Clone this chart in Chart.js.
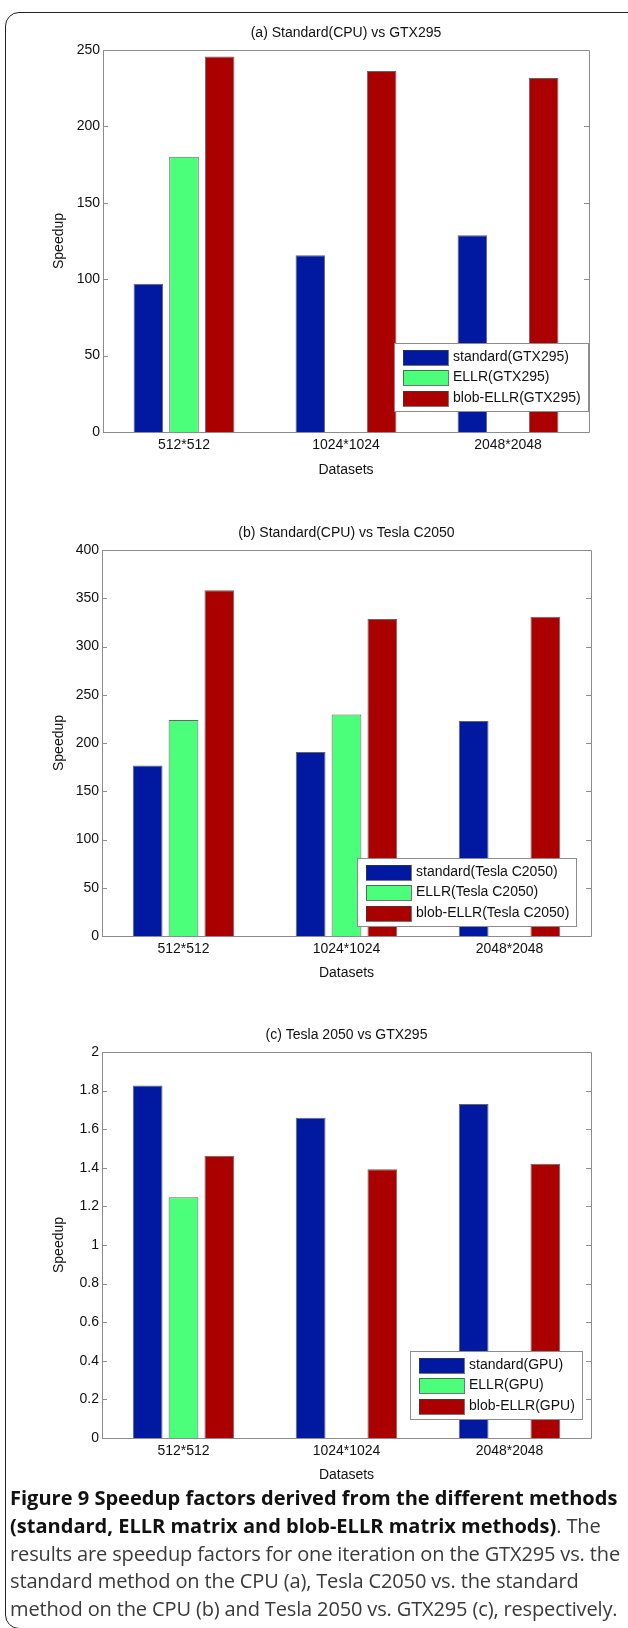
<!DOCTYPE html>
<html>
<head>
<meta charset="utf-8">
<title>Figure 9</title>
<script src="https://cdn.jsdelivr.net/npm/chart.js@4.4.0/dist/chart.umd.min.js"></script>
<style>
  html, body { margin: 0; padding: 0; background: #fff; }
  body { width: 628px; height: 1628px; position: relative; overflow: hidden; }
  #frame {
    position: absolute; left: 5px; top: 12px; width: 700px; height: 1617px;
    border: 1.5px solid #222; border-radius: 14px; box-sizing: border-box;
  }
  canvas { position: absolute; left: 0; }
  #caption {
    position: absolute; left: 10px; top: 1484px; white-space: nowrap;
    font-family: "Open Sans", "Noto Sans", sans-serif; font-size: 20px; line-height: 27.75px;
    color: #3a3a3a;
  }
  #caption b { color: #111; }
</style>
</head>
<body>
<div id="frame"></div>
<canvas id="chartA" width="628" height="490" style="top:0px"></canvas>
<canvas id="chartB" width="628" height="495" style="top:495px"></canvas>
<canvas id="chartC" width="628" height="495" style="top:995px"></canvas>
<div id="caption"><span class="ln" id="line1"><b>Figure 9 Speedup factors derived from the different methods</b></span><br><span class="ln"><b>(standard, ELLR matrix and blob-ELLR matrix methods)</b><span class="reg">. The</span></span><br><span class="ln reg" id="line3">results are speedup factors for one iteration on the GTX295 vs. the</span><br><span class="ln reg">standard method on the CPU (a), Tesla C2050 vs. the standard</span><br><span class="ln reg">method on the CPU (b) and Tesla 2050 vs. GTX295 (c), respectively.</span></div>

<script>
// categories shared by the three panels
const categories = ['512*512', '1024*1024', '2048*2048'];

// (a) Standard(CPU) vs GTX295
const standardGTX = [97.1, 115.7, 128.8];
const ellrGTX = [180.2, null, null];
const blobGTX = [245.8, 236.2, 231.6];
const ticksA = [0, 50, 100, 150, 200, 250];

// (b) Standard(CPU) vs Tesla C2050
const standardTesla = [176.8, 190.6, 222.9];
const ellrTesla = [223.9, 229.5, null];
const blobTesla = [358.4, 328.6, 330.7];
const ticksB = [0, 50, 100, 150, 200, 250, 300, 350, 400];

// (c) Tesla 2050 vs GTX295
const standardGPU = [1.827, 1.659, 1.731];
const ellrGPU = [1.248, null, null];
const blobGPU = [1.463, 1.393, 1.421];
const ticksC = [0, 0.2, 0.4, 0.6, 0.8, 1, 1.2, 1.4, 1.6, 1.8, 2];

const barColors = ['#0019a0', '#4cff7a', '#aa0000'];
const fontFamily = '"Liberation Sans", Arial, sans-serif';

// fit the caption: bold first line and the widest plain line both span the frame
let caption = document.getElementById('caption');
let line1 = document.getElementById('line1');
let line3 = document.getElementById('line3');
caption.style.fontSize = (20 * 608 / line1.getBoundingClientRect().width).toFixed(2) + 'px';
let w3 = line3.getBoundingClientRect().width;
let spacing = (610 - w3) / line3.textContent.length;
document.querySelectorAll('#caption .reg').forEach(el => { el.style.letterSpacing = spacing.toFixed(3) + 'px'; });

// MATLAB-like box around the axes with small inward ticks on both sides
const boxPlugin = {
    id: 'matlabBox',
    afterDatasetsDraw(chart) {
        const { ctx, chartArea: a } = chart;
        const y = chart.scales.y;
        ctx.save();
        ctx.strokeStyle = '#8c8c8c';
        ctx.lineWidth = 1;
        ctx.beginPath();
        ctx.rect(Math.round(a.left) + 0.5, Math.round(a.top) + 0.5, Math.round(a.width), Math.round(a.height));
        y.ticks.forEach(t => {
            const py = Math.round(y.getPixelForValue(t.value)) + 0.5;
            ctx.moveTo(a.left, py); ctx.lineTo(a.left + 5, py);
            ctx.moveTo(a.right - 5, py); ctx.lineTo(a.right, py);
        });
        ctx.stroke();
        ctx.restore();
    }
};

// legend box drawn inside the plot, lower right
const legendPlugin = {
    id: 'insideLegend',
    afterDraw(chart, args, opts) {
        const { ctx, chartArea: a } = chart;
        ctx.save();
        ctx.font = '14px ' + fontFamily;
        const names = chart.data.datasets.map(d => d.label);
        const tw = Math.max(...names.map(n => ctx.measureText(n).width));
        const w = Math.round(59 + tw + 7), h = 68;
        const x = Math.round(a.right - opts.right - w);
        const top = Math.round(a.bottom - opts.bottom - h);
        ctx.fillStyle = '#fff';
        ctx.fillRect(x, top, w, h);
        ctx.strokeStyle = '#8c8c8c';
        ctx.lineWidth = 1;
        ctx.strokeRect(x + 0.5, top + 0.5, w, h);
        chart.data.datasets.forEach((d, i) => {
            const cy = top + 14 + i * 20.5;
            ctx.fillStyle = d.backgroundColor;
            ctx.fillRect(x + 9, Math.round(cy - 7.5), 45, 15);
            ctx.strokeStyle = 'rgba(60,60,60,0.7)';
            ctx.strokeRect(x + 9.5, Math.round(cy - 7.5) + 0.5, 45, 15);
            ctx.fillStyle = '#111';
            ctx.textBaseline = 'middle';
            ctx.textAlign = 'left';
            ctx.fillText(d.label, x + 59, cy);
        });
        ctx.restore();
    }
};

function makeChart(id, title, names, series, ticks, lay) {
    const datasets = series.map((values, i) => ({
        label: names[i],
        data: values,
        backgroundColor: barColors[i],
        borderColor: 'rgba(50,50,50,0.75)',
        borderWidth: 1,
        categoryPercentage: 0.66,
        barPercentage: 0.83
    }));

    return new Chart(document.getElementById(id), {
        type: 'bar',
        data: { labels: categories, datasets: datasets },
        plugins: [boxPlugin, legendPlugin],
        options: {
            responsive: false,
            animation: false,
            layout: { padding: { top: lay.padTop, right: lay.padRight, left: 0, bottom: 0 } },
            plugins: {
                legend: { display: false },
                tooltip: { enabled: false },
                title: {
                    display: true,
                    text: title,
                    fullSize: false,
                    color: '#111',
                    font: { family: fontFamily, size: 14, weight: 'normal', lineHeight: 1.2 },
                    padding: { top: 0, bottom: lay.titleGap }
                },
                insideLegend: lay.legend
            },
            scales: {
                x: {
                    grid: { display: false, drawTicks: false },
                    border: { display: false },
                    ticks: { color: '#111', padding: 4.6, font: { family: fontFamily, size: 14, lineHeight: 1.2 } },
                    title: {
                        display: true, text: 'Datasets', color: '#111',
                        font: { family: fontFamily, size: 14, lineHeight: 1.2 },
                        padding: { top: 0, bottom: lay.xTitleGap }
                    },
                    afterFit: s => { s.height = lay.xHeight; }
                },
                y: {
                    min: ticks[0],
                    max: ticks[ticks.length - 1],
                    grid: { display: false, drawTicks: false },
                    border: { display: false },
                    afterBuildTicks: s => { s.ticks = ticks.map(v => ({ value: v })); },
                    ticks: {
                        color: '#111', padding: 3,
                        font: { family: fontFamily, size: 14, lineHeight: 1.2 },
                        callback: v => String(v)
                    },
                    title: {
                        display: true, text: 'Speedup', color: '#111',
                        font: { family: fontFamily, size: 14, lineHeight: 1.2 },
                        padding: { top: 50.6, bottom: 0 }
                    },
                    afterFit: s => { s.width = lay.yWidth; }
                }
            }
        }
    });
}

makeChart('chartA', '(a) Standard(CPU) vs GTX295',
    ['standard(GTX295)', 'ELLR(GTX295)', 'blob-ELLR(GTX295)'],
    [standardGTX, ellrGTX, blobGTX], ticksA,
    { padTop: 24.6, titleGap: 8.6, padRight: 39, yWidth: 103, xHeight: 58, xTitleGap: 11.6,
      legend: { right: 1, bottom: 21 } });

makeChart('chartB', '(b) Standard(CPU) vs Tesla C2050',
    ['standard(Tesla C2050)', 'ELLR(Tesla C2050)', 'blob-ELLR(Tesla C2050)'],
    [standardTesla, ellrTesla, blobTesla], ticksB,
    { padTop: 29.6, titleGap: 8.6, padRight: 37, yWidth: 102, xHeight: 54, xTitleGap: 8.6,
      legend: { right: 15, bottom: 10 } });

makeChart('chartC', '(c) Tesla 2050 vs GTX295',
    ['standard(GPU)', 'ELLR(GPU)', 'blob-ELLR(GPU)'],
    [standardGPU, ellrGPU, blobGPU], ticksC,
    { padTop: 31.6, titleGap: 8.6, padRight: 37, yWidth: 102, xHeight: 52, xTitleGap: 6.6,
      legend: { right: 9, bottom: 19 } });
</script>
</body>
</html>
